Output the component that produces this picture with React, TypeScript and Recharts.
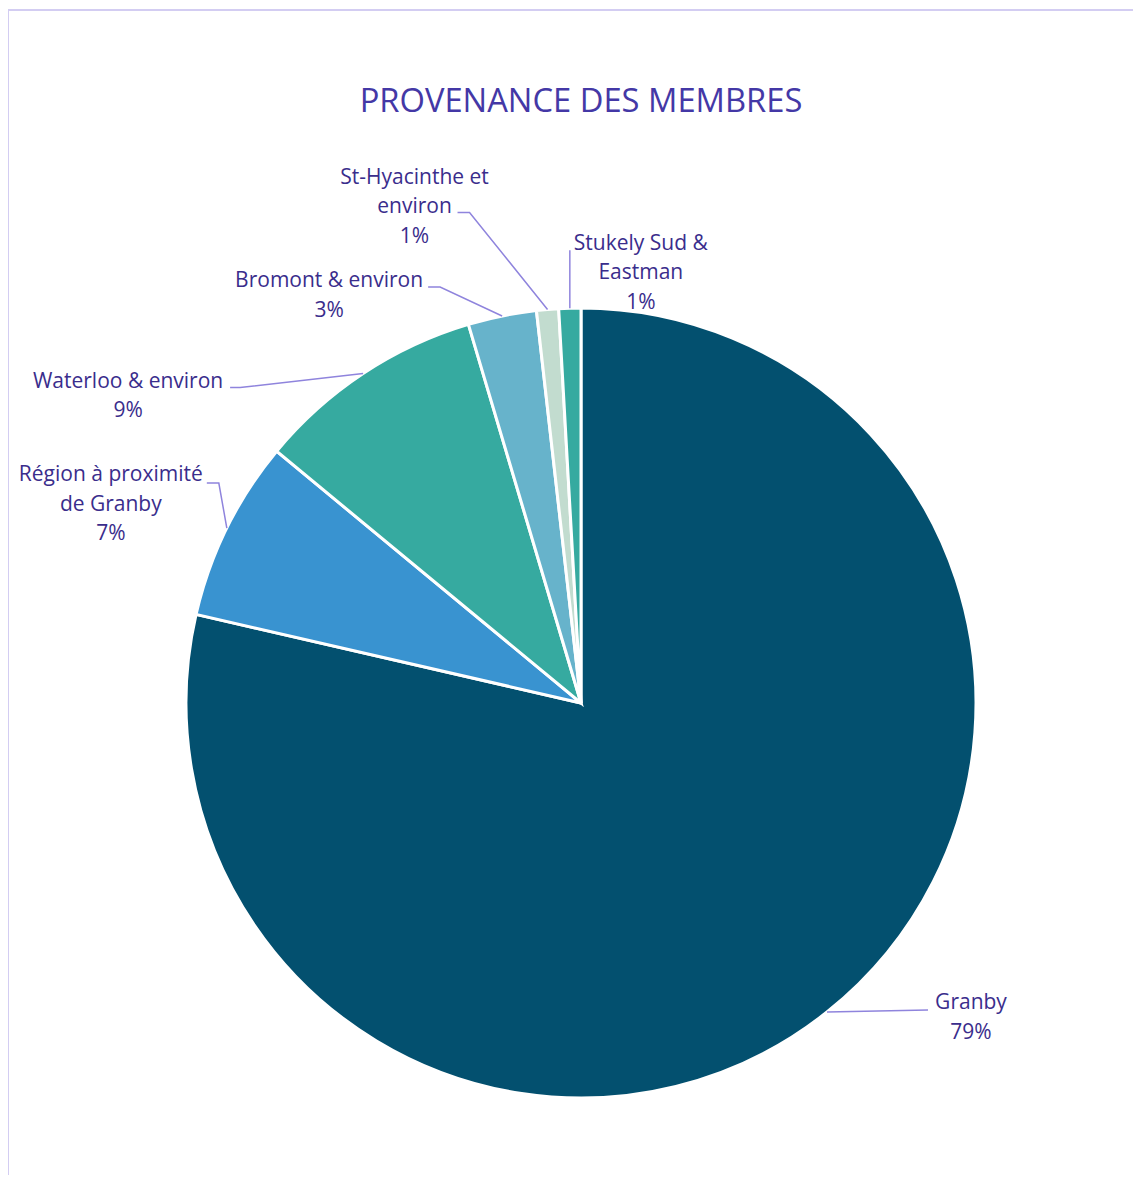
import { PieChart, Pie, Cell } from 'recharts';

const categories = [
  'Granby',
  'Région à proximité de Granby',
  'Waterloo & environ',
  'Bromont & environ',
  'St-Hyacinthe et environ',
  'Stukely Sud & Eastman',
];
const shares = [78.6, 7.4, 9.4, 2.8, 0.9, 0.9];
const percentLabels = ['79%', '7%', '9%', '3%', '1%', '1%'];

const colors = ['#03506F', '#3993D0', '#36AAA0', '#67B3CB', '#C2DCCF', '#36AAA0'];

// leader elbow relative to slice edge, tail length, text offset relative to elbow, words on line 1
const labelLayout = [
  { ex: 101, ey: -2, tail: 0, tx: 43, ty: -8, breakAt: 0 },
  { ex: -8, ey: -45, tail: -12, tx: -108, ty: -9, breakAt: 3 },
  { ex: -123, ey: 14, tail: -10, tx: -112, ty: -7, breakAt: 0 },
  { ex: -62, ey: -29, tail: -12, tx: -111, ty: -7, breakAt: 0 },
  { ex: -78, ey: -97, tail: -12, tx: -55, ty: -36, breakAt: 2 },
  { ex: 0, ey: -58, tail: 0, tx: 71, ty: -8, breakAt: 3 },
];

const data = categories.map((name, i) => ({ name, value: shares[i], pct: percentLabels[i] }));

const TEXT = '#3A2D8C';
const LEADER = '#8F84DD';
const FONT = '"Open Sans", "Noto Sans", sans-serif';

function renderLabel(props: any) {
  const { cx, cy, midAngle, outerRadius, index } = props;
  const lay = labelLayout[index];
  const rad = (midAngle * Math.PI) / 180;
  const x0 = cx + outerRadius * Math.cos(rad);
  const y0 = cy - outerRadius * Math.sin(rad);
  const x1 = x0 + lay.ex;
  const y1 = y0 + lay.ey;
  const x2 = x1 + lay.tail;
  const words = categories[index].split(' ');
  const lines = lay.breakAt
    ? [words.slice(0, lay.breakAt).join(' '), words.slice(lay.breakAt).join(' ')]
    : [categories[index]];
  lines.push(percentLabels[index]);
  return (
    <g key={`lbl-${index}`}>
      <polyline
        points={`${x0},${y0} ${x1},${y1} ${x2},${y1}`}
        fill="none"
        stroke={LEADER}
        strokeWidth={1.5}
      />
      {lines.map((t, j) => (
        <text
          key={j}
          x={x1 + lay.tx}
          y={y1 + lay.ty + j * 29.5}
          dy="0.35em"
          textAnchor="middle"
          fill={TEXT}
          fontSize={21}
          fontFamily={FONT}
        >
          {t}
        </text>
      ))}
    </g>
  );
}

export default function App() {
  return (
    <div
      style={{
        position: 'relative',
        width: 1141,
        height: 1183,
        margin: -8,
        overflow: 'hidden',
        background: '#fff',
        fontFamily: FONT,
      }}
    >
      <div
        style={{
          position: 'absolute',
          left: 7,
          top: 9,
          right: -10,
          bottom: -10,
          borderLeft: '2px solid #D3CDF2',
          borderTop: '2px solid #D3CDF2',
        }}
      />
      <div
        style={{
          position: 'absolute',
          left: 0,
          width: 1162,
          top: 78,
          textAlign: 'center',
          color: '#4438A6',
          fontSize: 32.7,
          lineHeight: '44px',
        }}
      >
        PROVENANCE DES MEMBRES
      </div>
      <div style={{ position: 'absolute', left: 0, top: 0 }}>
        <PieChart width={1141} height={1183} margin={{ top: 0, right: 0, bottom: 0, left: 0 }}>
          <Pie
            data={data}
            dataKey="value"
            nameKey="name"
            cx={581}
            cy={703}
            outerRadius={395}
            startAngle={90}
            endAngle={-270}
            stroke="#fff"
            strokeWidth={3}
            label={renderLabel}
            labelLine={false}
            isAnimationActive={false}
          >
            {data.map((d, i) => (
              <Cell key={d.name} fill={colors[i]} />
            ))}
          </Pie>
        </PieChart>
      </div>
    </div>
  );
}
